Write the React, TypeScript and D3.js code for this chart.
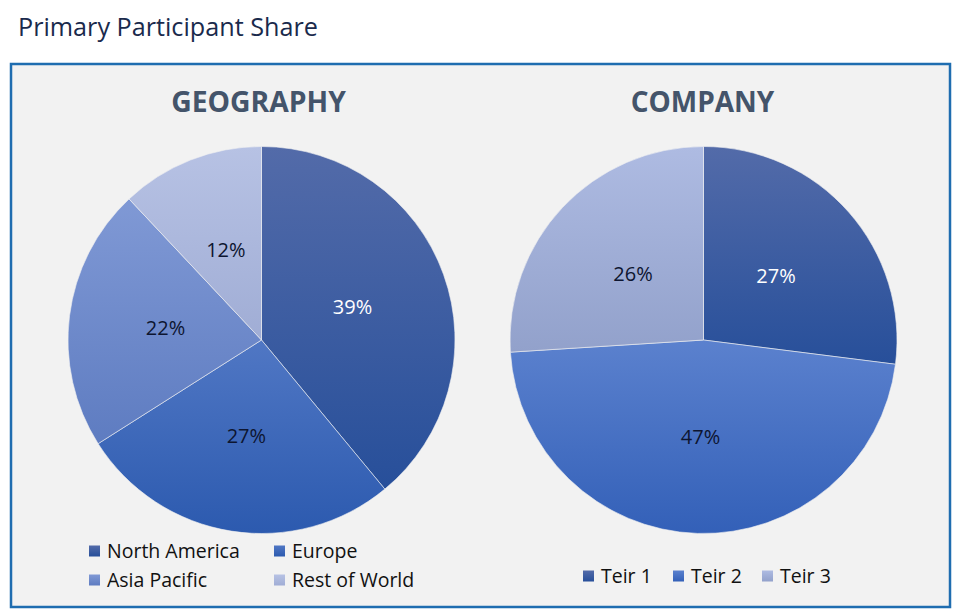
import React from 'react';
import * as d3 from 'd3';

const geoCategories = ['North America', 'Europe', 'Asia Pacific', 'Rest of World'];
const geoValues = [39, 27, 22, 12];
const companyCategories = ['Teir 1', 'Teir 2', 'Teir 3'];
const companyValues = [27, 47, 26];

const geoColors: [string, string][] = [
  ['#536ba9', '#274f9a'],
  ['#5077c4', '#2c5aaf'],
  ['#8099d5', '#5e7cc1'],
  ['#b7c2e4', '#a0add5'],
];
const geoLabelColors = ['#ffffff', '#0d1530', '#0d1530', '#0d1530'];
const companyColors: [string, string][] = [
  ['#536ba9', '#274f9a'],
  ['#5b81ce', '#3360b8'],
  ['#aebbe2', '#92a1cb'],
];
const companyLabelColors = ['#ffffff', '#0d1530', '#0d1530'];

const FONT = "'Open Sans', sans-serif";
const R = 193.5;

type PieProps = {
  id: string;
  cx: number;
  cy: number;
  title: string;
  titleX: number;
  categories: string[];
  values: number[];
  colors: [string, string][];
  labelColors: string[];
  titleSize: number;
};

function Pie({ id, cx, cy, title, titleX, categories, values, colors, labelColors, titleSize }: PieProps) {
  const pie = d3.pie<number>().sort(null).startAngle(0).endAngle(2 * Math.PI);
  const arcs = pie(values);
  const arc = d3.arc<d3.PieArcDatum<number>>().innerRadius(0).outerRadius(R);
  const total = d3.sum(values);
  return (
    <g>
      <defs>
        {colors.map((c, i) => (
          <linearGradient key={i} id={`${id}-g${i}`} x1="0" y1="0" x2="0" y2="1">
            <stop offset="0" stopColor={c[0]} />
            <stop offset="1" stopColor={c[1]} />
          </linearGradient>
        ))}
      </defs>
      <text
        x={titleX}
        y={112}
        textAnchor="middle"
        fontFamily={FONT}
        fontWeight={700}
        fontSize={titleSize}
        fill="#44546a"
      >
        {title}
      </text>
      <g transform={`translate(${cx},${cy})`}>
        {arcs.map((a, i) => (
          <path
            key={categories[i]}
            d={arc(a) || ''}
            fill={`url(#${id}-g${i})`}
            stroke="#f2f2f2"
            strokeOpacity={0.6}
            strokeWidth={1}
          />
        ))}
        {arcs.map((a, i) => {
          const [x, y] = arc.centroid(a);
          return (
            <text
              key={'l' + i}
              x={x}
              y={y}
              dy="0.35em"
              textAnchor="middle"
              fontFamily={FONT}
              fontSize={20}
              fill={labelColors[i]}
            >
              {`${Math.round((values[i] / total) * 100)}%`}
            </text>
          );
        })}
      </g>
    </g>
  );
}

function LegendItem({ x, y, label, color }: { x: number; y: number; label: string; color: [string, string] }) {
  return (
    <g>
      <rect x={x} y={y - 5.5} width={11} height={11} fill={`url(#leg-${color[0].slice(1)}${color[1].slice(1)})`} />
      <text x={x + 18} y={y} dy="0.35em" fontFamily={FONT} fontSize={19.5} fill="#111111">
        {label}
      </text>
    </g>
  );
}

export default function App() {
  const allColors = [...geoColors, ...companyColors];
  const geoLegendPos = [
    [89, 551],
    [274, 551],
    [89, 580],
    [274, 580],
  ];
  const compLegendPos = [
    [583, 576],
    [673, 576],
    [762, 576],
  ];
  return (
    <svg
      width={953}
      height={611}
      style={{ position: 'absolute', left: 0, top: 0, background: '#ffffff' }}
    >
      <defs>
        {allColors.map((c, i) => (
          <linearGradient key={i} id={`leg-${c[0].slice(1)}${c[1].slice(1)}`} x1="0" y1="0" x2="0" y2="1">
            <stop offset="0" stopColor={c[0]} />
            <stop offset="1" stopColor={c[1]} />
          </linearGradient>
        ))}
      </defs>
      <text x={18} y={36} fontFamily={FONT} fontSize={25.2} fill="#1a2a4c">
        Primary Participant Share
      </text>
      <rect x={11} y={64} width={939} height={543} fill="#f2f2f2" stroke="#1f6db0" strokeWidth={2.5} />
      <Pie
        id="geo"
        cx={261.5}
        cy={340}
        title="GEOGRAPHY"
        titleX={258.5}
        categories={geoCategories}
        values={geoValues}
        colors={geoColors}
        labelColors={geoLabelColors}
        titleSize={28.3}
      />
      <Pie
        id="comp"
        cx={703.5}
        cy={340}
        title="COMPANY"
        titleX={702.5}
        categories={companyCategories}
        values={companyValues}
        colors={companyColors}
        labelColors={companyLabelColors}
        titleSize={28}
      />
      {geoCategories.map((c, i) => (
        <LegendItem key={c} x={geoLegendPos[i][0]} y={geoLegendPos[i][1]} label={c} color={geoColors[i]} />
      ))}
      {companyCategories.map((c, i) => (
        <LegendItem key={c} x={compLegendPos[i][0]} y={compLegendPos[i][1]} label={c} color={companyColors[i]} />
      ))}
    </svg>
  );
}
